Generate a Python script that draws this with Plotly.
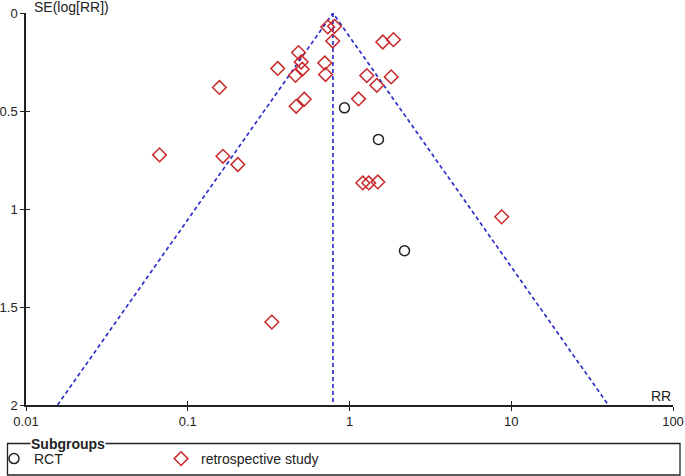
import math
import plotly.graph_objects as go

# ---- data ----
retro_rr = [0.734, 0.808, 0.788, 1.607, 1.870, 0.484, 0.503, 0.510, 0.464, 0.360,
            0.703, 0.711, 1.279, 1.810, 1.475, 1.137, 0.525, 0.468, 0.157, 0.0669,
            0.165, 0.204, 1.208, 1.316, 1.496, 8.73, 0.331]
retro_se = [0.071, 0.068, 0.143, 0.148, 0.136, 0.202, 0.250, 0.287, 0.318, 0.283,
            0.255, 0.314, 0.319, 0.326, 0.369, 0.438, 0.440, 0.476, 0.380, 0.724,
            0.731, 0.773, 0.867, 0.867, 0.862, 1.040, 1.577]
rct_rr = [0.931, 1.51, 2.188]
rct_se = [0.484, 0.645, 1.213]
pooled_rr = 0.79
se_max = 2.0
x_ticks = [0.01, 0.1, 1, 10, 100]
x_ticktext = ["0.01", "0.1", "1", "10", "100"]
y_ticks = [0, 0.5, 1, 1.5, 2]
y_ticktext = ["0", "0.5", "1", "1.5", "2"]

W, H = 685, 476
ML, MR, MT, MB = 26, 12, 13, 71
PW, PH = W - ML - MR, H - MT - MB

def px_x(px):
    return (px - ML) / PW

def px_y(py):
    return (H - MB - py) / PH

FONT = "Liberation Sans, Arial, sans-serif"
BLUE = "#2E2ECC"
RED = "#C8282A"
DARK = "#222222"

fig = go.Figure()

# funnel limits (95%) around the pooled estimate
fig.add_trace(go.Scatter(
    x=[pooled_rr * math.exp(-1.96 * se_max), pooled_rr, pooled_rr * math.exp(1.96 * se_max)],
    y=[se_max, 0, se_max], mode="lines",
    line=dict(color=BLUE, width=1.7, dash="4px,3px"), showlegend=False, hoverinfo="skip"))
fig.add_trace(go.Scatter(
    x=[pooled_rr, pooled_rr], y=[0, se_max], mode="lines",
    line=dict(color=BLUE, width=1.7, dash="4px,3px"), showlegend=False, hoverinfo="skip"))

fig.add_trace(go.Scatter(
    x=rct_rr, y=rct_se, mode="markers", name="RCT",
    marker=dict(symbol="circle-open", size=10, color=DARK, line=dict(width=1.5, color=DARK))))
fig.add_trace(go.Scatter(
    x=retro_rr, y=retro_se, mode="markers", name="retrospective study",
    marker=dict(symbol="diamond-open", size=10.5, color=RED, line=dict(width=1.5, color=RED))))

# empty trace to carry the overlay axes (inside half of crossing ticks)
fig.add_trace(go.Scatter(x=[], y=[], xaxis="x2", yaxis="y2", showlegend=False))

axis_common = dict(showgrid=False, zeroline=False, linecolor=DARK, linewidth=1.5,
                   tickcolor=DARK, tickwidth=1.3, ticklen=4,
                   tickfont=dict(family=FONT, size=13, color=DARK))

fig.update_layout(
    width=W, height=H,
    margin=dict(l=ML, r=MR, t=MT, b=MB, autoexpand=False),
    paper_bgcolor="white", plot_bgcolor="white",
    font=dict(family=FONT, size=14, color=DARK),
    xaxis=dict(type="log", range=[-2, 2], tickvals=x_ticks, ticktext=x_ticktext,
               ticks="outside", showline=True, **axis_common),
    yaxis=dict(range=[2, 0], tickvals=y_ticks, ticktext=y_ticktext,
               ticks="outside", showline=True, **axis_common),
    xaxis2=dict(type="log", range=[-2, 2], tickvals=x_ticks, overlaying="x", anchor="y",
                ticks="inside", showticklabels=False, showline=False, showgrid=False,
                zeroline=False, tickcolor=DARK, tickwidth=1.3, ticklen=4),
    yaxis2=dict(range=[2, 0], tickvals=y_ticks, overlaying="y", anchor="x",
                ticks="inside", showticklabels=False, showline=False, showgrid=False,
                zeroline=False, tickcolor=DARK, tickwidth=1.3, ticklen=4),
    showlegend=True,
    legend=dict(orientation="h", x=px_x(-6), xanchor="left", y=px_y(459), yanchor="middle",
                bgcolor="rgba(0,0,0,0)", borderwidth=0,
                font=dict(family=FONT, size=14, color=DARK),
                entrywidth=122, entrywidthmode="pixels", itemclick=False),
)

# legend frame (fieldset style)
fig.add_shape(type="rect", xref="paper", yref="paper",
              x0=px_x(7.5), x1=px_x(680), y0=px_y(443.5), y1=px_y(475),
              line=dict(color=DARK, width=1.3), fillcolor="rgba(0,0,0,0)", layer="above")

fig.add_annotation(text="<b>Subgroups</b>", xref="paper", yref="paper",
                   x=px_x(30), y=px_y(444), xanchor="left", yanchor="middle",
                   showarrow=False, bgcolor="white", borderpad=0,
                   font=dict(family=FONT, size=14, color=DARK))
fig.add_annotation(text="SE(log[RR])", xref="paper", yref="paper",
                   x=px_x(32), y=px_y(7), xanchor="left", yanchor="middle",
                   showarrow=False, font=dict(family=FONT, size=14, color=DARK))
fig.add_annotation(text="RR", xref="paper", yref="paper",
                   x=px_x(673), y=px_y(396), xanchor="right", yanchor="middle",
                   showarrow=False, font=dict(family=FONT, size=14, color=DARK))

fig.write_html("out.html", config={"displayModeBar": False},
               post_script="document.body.style.margin='0';document.body.style.padding='0';")
